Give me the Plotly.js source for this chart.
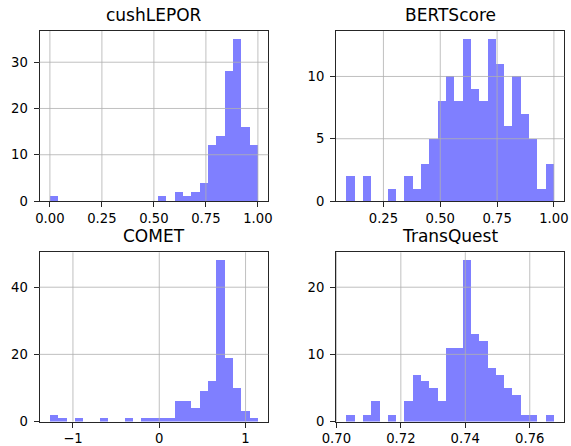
<!DOCTYPE html>
<html>
<head>
<meta charset="utf-8">
<script src="https://cdn.plot.ly/plotly-3.0.1.min.js"></script>
<style>html,body{margin:0;padding:0;background:#fff;}#chart{width:571px;height:446px;}</style>
</head>
<body>
<div id="chart"></div>
<script>
// Panel titles
const titles = ["cushLEPOR", "BERTScore", "COMET", "TransQuest"];

// Bin range (first edge, last edge) for each histogram (25 bins each)
const binLo = [0.0, 0.087, -1.267, 0.7031];
const binHi = [1.0, 1.0, 1.143, 0.7675];

// Counts per bin
const cushLEPOR = [1,0,0,0,0,0,0,0,0,0,0,0,0,1,0,2,1,2,4,12,14,28,35,16,12];
const BERTScore = [2,0,2,0,0,1,0,2,1,3,5,8,10,8,13,9,8,13,11,6,10,7,5,1,3];
const COMET = [2,1,0,1,0,0,1,0,0,1,0,1,1,1,1,6,6,4,9,12,48,19,10,3,1];
const TransQuest = [1,0,1,3,0,1,0,3,7,6,5,3,11,11,24,13,12,8,7,5,4,1,1,0,1];

// Tick values and labels
const xTickVals = [[0,0.25,0.5,0.75,1.0],[0.25,0.5,0.75,1.0],[-1,0,1],[0.70,0.72,0.74,0.76]];
const xTickText = [["0.00","0.25","0.50","0.75","1.00"],["0.25","0.50","0.75","1.00"],["\u22121","0","1"],["0.70","0.72","0.74","0.76"]];
const yTickVals = [[0,10,20,30],[0,5,10],[0,20,40],[0,10,20]];

const series = [cushLEPOR, BERTScore, COMET, TransQuest];

const W = 571, H = 446;
// plot boxes in pixels [left, right, top, bottom]
const boxes = [
  [39.5, 268.3, 31, 201],
  [336, 564.3, 31, 201],
  [39.5, 268.3, 252.3, 421.5],
  [336, 564.3, 252.3, 421.5]
];

const traces = [];
const layout = {
  width: W, height: H,
  margin: {l:0, r:0, t:0, b:0},
  paper_bgcolor: '#fff', plot_bgcolor: '#fff',
  showlegend: false,
  font: {family: 'DejaVu Sans', size: 13.2, color: '#000'},
  bargap: 0,
  annotations: [],
  shapes: []
};

const gridColor = '#b0b0b0';

series.forEach((counts, i) => {
  const n = counts.length;
  const size = (binHi[i] - binLo[i]) / n;
  const xs = counts.map((_, k) => binLo[i] + size * (k + 0.5));
  const xa = i === 0 ? 'x' : 'x' + (i + 1);
  const ya = i === 0 ? 'y' : 'y' + (i + 1);
  traces.push({
    type: 'bar', x: xs, y: counts, width: size,
    xaxis: xa, yaxis: ya,
    marker: {color: 'rgba(0,0,255,0.5)', line: {width: 0}},
    hoverinfo: 'x+y'
  });
  const pad = (binHi[i] - binLo[i]) * 0.05;
  const ymax = Math.max(...counts) * 1.05;
  const b = boxes[i];
  const axCommon = {
    showline: true, mirror: true, linecolor: '#262626', linewidth: 1,
    showgrid: false,
    zeroline: false, ticks: 'outside', ticklen: 5, tickwidth: 1, tickcolor: '#262626',
    tickfont: {family: 'DejaVu Sans', size: 13.2, color: '#000'},
    fixedrange: true
  };
  const xKey = i === 0 ? 'xaxis' : 'xaxis' + (i + 1);
  const yKey = i === 0 ? 'yaxis' : 'yaxis' + (i + 1);
  layout[xKey] = Object.assign({}, axCommon, {
    domain: [b[0] / W, b[1] / W], anchor: ya,
    range: [binLo[i] - pad, binHi[i] + pad],
    tickmode: 'array', tickvals: xTickVals[i], ticktext: xTickText[i]
  });
  layout[yKey] = Object.assign({}, axCommon, {
    domain: [1 - b[3] / H, 1 - b[2] / H], anchor: xa,
    range: [0, ymax],
    tickmode: 'array', tickvals: yTickVals[i], ticktext: yTickVals[i].map(String),
    ticklabelstandoff: 3
  });
  // grid lines drawn above the semi-transparent bars (as in the reference)
  xTickVals[i].forEach(v => {
    layout.shapes.push({type: 'line', layer: 'above', xref: xa, yref: ya + ' domain',
      x0: v, x1: v, y0: 0, y1: 1, line: {color: gridColor, width: 0.8}});
  });
  yTickVals[i].forEach(v => {
    if (v === 0) return;
    layout.shapes.push({type: 'line', layer: 'above', xref: xa + ' domain', yref: ya,
      x0: 0, x1: 1, y0: v, y1: v, line: {color: gridColor, width: 0.8}});
  });
  layout.annotations.push({
    text: titles[i], xref: 'paper', yref: 'paper',
    x: (b[0] + b[1]) / 2 / W, y: 1 - b[2] / H,
    xanchor: 'center', yanchor: 'bottom', yshift: 4, showarrow: false,
    font: {family: 'DejaVu Sans', size: 17, color: '#000'}
  });
});

Plotly.newPlot('chart', traces, layout, {displayModeBar: false, staticPlot: true});
</script>
</body>
</html>
